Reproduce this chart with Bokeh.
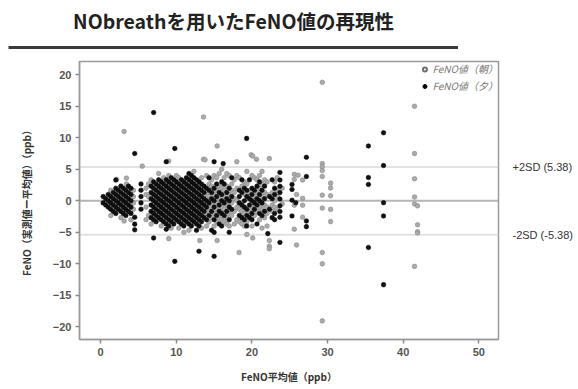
from bokeh.plotting import figure
from bokeh.models import (Range1d, FixedTicker, LinearAxis, Span, Legend, LegendItem,
                          ColumnDataSource, CustomJSTickFormatter)
from bokeh.layouts import column
from bokeh.embed import file_html
from bokeh.resources import INLINE

TITLE = "NObreathを用いたFeNO値の再現性"
X_LABEL = "FeNO平均値（ppb）"
Y_LABEL = "FeNO（実測値ー平均値）（ppb）"
SERIES = ["FeNO値（朝）", "FeNO値（夕）"]
X_TICKS = [0, 10, 20, 30, 40, 50]
Y_TICKS = [-20, -15, -10, -5, 0, 5, 10, 15, 20]
SD_LIMIT = 5.38

# evening (black) points, grouped by mean value: (x, [y...])
EVE_COLS = [
    (0.33, [-0.33, 0.67]),
    (0.67, [-0.67, 0.33]),
    (1.0, [-1, 0, 1]),
    (1.33, [-1.33, -0.33, 0.67]),
    (1.67, [-1.67, -0.67, 0.33, 1.33]),
    (2.0, [-2, -1, 0, 1, 2, 3.3]),
    (2.33, [-1.33, -0.33, 0.67, 1.67]),
    (2.67, [-1.67, -0.67, 0.33, 1.33, 2.33]),
    (3.0, [-2, -1, 0, 1, 2]),
    (3.33, [-2.33, -1.33, -0.33, 0.67, 1.67]),
    (3.67, [-1.67, -0.67, 0.33, 1.33, 2.33]),
    (4.0, [-2, -1, 0, 1, 2]),
    (4.5, [-4.6, -3.7, -2.6, 7.5]),
    (5.33, [-1.33, -0.33, 0.67, 1.67, 2.67]),
    (6.67, [-2.67, -1.67, -0.67, 0.33, 1.33, 2.33]),
    (7.0, [-5.9, -3, -2, -1, 0, 1, 2, 3, 14.0]),
    (7.33, [-3.33, -2.33, -1.33, -0.33, 0.67, 1.67, 2.67]),
    (7.67, [-2.67, -1.67, -0.67, 0.33, 1.33, 2.33, 3.33]),
    (8.0, [-3, -2, -1, 0, 1, 2, 3]),
    (8.33, [-3.33, -2.33, -1.33, -0.33, 0.67, 1.67, 2.67]),
    (8.67, [-4.5, -3.67, -2.67, -1.67, -0.67, 0.33, 1.33, 2.33, 3.33, 6.2]),
    (9.0, [-4, -3, -2, -1, 0, 1, 2, 3]),
    (9.33, [-3.33, -2.33, -1.33, -0.33, 0.67, 1.67, 2.67, 3.67]),
    (9.67, [-3.67, -2.67, -1.67, -0.67, 0.33, 1.33, 2.33, 3.33]),
    (9.8, [-9.6, 8.3]),
    (10.0, [-3, -2, -1, 0, 1, 2, 3]),
    (10.33, [-3.33, -2.33, -1.33, -0.33, 0.67, 1.67, 2.67]),
    (10.67, [-3.67, -2.67, -1.67, -0.67, 0.33, 1.33, 2.33, 3.33]),
    (11.0, [-4, -3, -2, -1, 0, 1, 2, 3]),
    (11.33, [-3.33, -2.33, -1.33, -0.33, 0.67, 1.67, 2.67, 3.67]),
    (11.67, [-3.67, -2.67, -1.67, -0.67, 0.33, 1.33, 2.33, 3.33, 4.33]),
    (12.0, [-4, -3, -2, -1, 0, 1, 2, 3, 4]),
    (12.33, [-3.33, -2.33, -1.33, -0.33, 0.67, 1.67, 2.67, 3.67]),
    (12.67, [-4.67, -3.67, -2.67, -1.67, -0.67, 0.33, 1.33, 2.33, 3.33]),
    (13.0, [-8.0, -4, -3, -2, -1, 0, 1, 2, 3]),
    (13.33, [-3.33, -2.33, -1.33, -0.33, 0.67, 1.67, 2.67]),
    (13.67, [-2.67, -1.67, -0.67, 0.33, 1.33, 2.33]),
    (14.0, [-3, -1, 0, 2]),
    (14.33, [-2.33, -0.33, 1.67, 3.67]),
    (14.67, [-4.67, -1.67, 0.33, 1.33]),
    (15.0, [-8.8, -5, -3, -1, 0, 2, 6.2]),
    (15.33, [-2.33, 0.67, 2.67]),
    (15.67, [-3.67, -1.67, -0.67, 1.33]),
    (16.0, [-4, -2, 0, 1, 3]),
    (16.2, [5.9]),
    (16.33, [-2.33, -0.33, 2.67]),
    (16.67, [-1.67, 0.33, 1.33]),
    (17.0, [-5.0, -3, -1, 0, 2]),
    (17.33, [-1.33, 0.67, 3.67]),
    (18.33, [-2.33, -0.33, 0.67, 1.67]),
    (18.67, [-2.67, -0.67, 1.33, 3.33]),
    (19.0, [-3, -1, 0, 2]),
    (19.3, [-4.0, 9.9]),
    (19.33, [-2.33, -1.33, 0.67, 1.67]),
    (19.67, [-2.67, -0.67, 0.33, 3.33]),
    (20.0, [-3, -2, 0, 1, 2]),
    (20.33, [-1.33, -0.33, 1.67]),
    (20.67, [-3.67, -0.67, 0.33, 2.33]),
    (21.0, [-2, 0, 1, 3]),
    (21.33, [-2.33, -0.33, 1.67]),
    (21.67, [-1.67, 0.33, 2.33]),
    (22.1, [-5.2]),
    (22.33, [-1.33, 0.67]),
    (22.67, [-2.67, 0.33, 3.33]),
    (23.0, [-3, -2, 1, 2]),
    (23.7, [-6.6, -2.6, -1.7, -0.8, 0.3, 1.3, 2.3, 3.3, 4.5]),
    (25.3, [-2.4, 0.1, 1.8, 2.6]),
    (25.8, [-0.3]),
    (27.2, [-4.1, -3.2, 3.85, 6.9]),
    (35.4, [-7.4, 2.6, 3.7, 8.7]),
    (37.4, [-13.3, -2.4, -0.3, 5.6, 10.8]),
]

# morning (gray) points
MORN_COLS = [
    (1.33, [1.67, -2.33]),
    (2.1, [3.4]),
    (2.67, [-2.67]),
    (3.1, [11.0, -3.2]),
    (3.4, [3.6, 2.67]),
    (4.0, [-3.0]),
    (4.33, [1.67, -0.33, 0.67, -1.33]),
    (5.5, [5.5]),
    (6.0, [-3.0, 2.0, 1.0, -1.0]),
    (6.33, [-2.33, 0.67, 2.67]),
    (6.67, [3.33, -3.67]),
    (7.67, [4.33]),
    (8.0, [-4.0]),
    (8.33, [3.67]),
    (9.0, [-6.0, 6.3, 4.0]),
    (9.33, [-4.33]),
    (10.0, [4.0]),
    (10.33, [-4.33, 3.67]),
    (11.0, [-5.0]),
    (11.67, [-4.67]),
    (12.33, [4.67]),
    (13.1, [-6.3]),
    (13.33, [3.67, -4.33]),
    (13.6, [13.3, 6.6]),
    (13.8, [6.5]),
    (14.0, [4.0, -4.0, 1.0, -2.0]),
    (14.33, [2.67, -1.33, -3.33, 0.67]),
    (14.67, [3.33, -2.67, 2.33, -0.67]),
    (15.0, [4.0, 1.0, -2.0, -4.0]),
    (15.33, [3.67, 1.67, -0.33, -1.33, -3.33]),
    (15.4, [8.7, -6.3]),
    (15.67, [2.33, 0.33, -2.67, 4.33]),
    (16.0, [2.0, -1.0, -3.0, 5.0]),
    (16.33, [3.67, 1.67, -1.33, -3.33, 0.67]),
    (16.67, [4.33, 2.33, -0.67, -2.67, -3.67]),
    (17.0, [4.0, 1.0, -2.0, -4.0]),
    (17.33, [2.67, -0.33, -2.33, 1.67]),
    (17.67, [3.33, 0.33, -1.67, -3.67, 1.33]),
    (18.0, [6.2, 2.0, -1.0, -3.0, 4.0, 0.0]),
    (18.3, [-8.2]),
    (18.33, [3.67, -1.33, -3.33]),
    (18.67, [2.33, -1.67, -3.67]),
    (19.0, [3.0, 1.0, -2.0, -4.0]),
    (19.33, [4.67, 2.67, -3.33, -5.33]),
    (19.67, [1.33, -1.67]),
    (19.9, [7.3]),
    (20.0, [4.0, -1.0, -4.0]),
    (20.1, [7.1, -5.9]),
    (20.33, [3.67, 0.67, -2.33]),
    (20.6, [6.6]),
    (20.67, [3.33, 1.33, -1.67]),
    (21.0, [4.0, 2.0, -1.0, -3.0]),
    (21.33, [4.67, 2.67, 0.67, -1.33, -4.33]),
    (21.67, [3.33, 1.33, -0.67, -2.67]),
    (22.0, [3.0, 1.0, -1.0, -2.0, -4.0]),
    (22.3, [6.7, -6.3, -7.2, -7.6]),
    (22.67, [1.33, -0.67, -1.67]),
    (23.0, [0.0, -1.0, 3.0]),
    (23.33, [1.67, -1.33, 3.67, 0.67]),
    (24.0, [2.0, -0.5]),
    (25.6, [4.2, 3.4, -4.5, -0.7]),
    (25.9, [-7.0, 1.0]),
    (26.1, [4.06]),
    (26.7, [3.3, 0.4, -0.7, -2.6]),
    (29.3, [18.8, 5.9, 5.4, 4.8, 3.85, 0.9, -1.15, -8.2, -10.0, -19.05]),
    (30.4, [2.8, 2.05, 0.8, -1.35, -3.3]),
    (41.5, [15.0, 7.5, 3.5, 0.6, -0.5, -10.4]),
    (41.9, [-0.8, -3.8, -4.9, -5.1]),
]


def flatten(cols):
    xs, ys = [], []
    for x, yl in cols:
        for y in yl:
            xs.append(x)
            ys.append(y)
    return xs, ys


eve_x, eve_y = flatten(EVE_COLS)
morn_x, morn_y = flatten(MORN_COLS)

JP = "Noto Sans CJK JP"
NUM = "Liberation Sans"

# ---- title strip with rule underneath ----
t = figure(width=458, height=56, output_backend="svg", toolbar_location=None,
           x_range=Range1d(0, 1), y_range=Range1d(0, 1),
           x_axis_type=None, y_axis_type=None, frame_align=False,
           min_border_left=8, min_border_right=0, min_border_top=0, min_border_bottom=9)
t.title.text = TITLE
t.title.align = "center"
t.title.text_font = JP
t.title.text_font_size = "19.5px"
t.title.text_font_style = "bold"
t.title.text_color = "#222222"
t.title.standoff = 6
t.outline_line_color = None
t.grid.visible = False
rule = LinearAxis(ticker=FixedTicker(ticks=[]))
rule.major_label_text_font_size = "0px"
rule.axis_line_color = "#3a3a3a"
rule.axis_line_width = 3
rule.major_tick_line_color = None
rule.minor_tick_line_color = None
t.add_layout(rule, "below")

# ---- main plot ----
p = figure(width=576, height=330, output_backend="svg", toolbar_location=None,
           x_range=Range1d(-2.8, 52.6), y_range=Range1d(-22.0, 22.1), frame_align=False,
           min_border_left=79, min_border_right=73, min_border_top=5, min_border_bottom=44)
p.grid.visible = False
p.outline_line_color = "#9a9a9a"
p.outline_line_width = 1.5

for ax in (p.xaxis[0], p.yaxis[0]):
    ax.axis_line_color = "#9a9a9a"
    ax.axis_line_width = 1.5
    ax.major_tick_line_color = "#8a8a8a"
    ax.major_tick_line_width = 1.5
    ax.major_tick_out = 4
    ax.major_tick_in = 0
    ax.minor_tick_line_color = None
    ax.major_label_text_font = NUM
    ax.major_label_text_font_size = "11px"
    ax.major_label_text_font_style = "bold"
    ax.major_label_text_color = "#555555"
    ax.axis_label_text_font = JP
    ax.axis_label_text_font_size = "10px"
    ax.axis_label_text_font_style = "bold"
    ax.axis_label_text_color = "#333333"

p.xaxis.ticker = FixedTicker(ticks=X_TICKS)
p.yaxis.ticker = FixedTicker(ticks=Y_TICKS)
p.xaxis.axis_label = X_LABEL
p.yaxis.axis_label = Y_LABEL
p.xaxis.major_label_standoff = 4
p.yaxis.major_label_standoff = 4
p.xaxis.axis_label_standoff = 10
p.yaxis.axis_label_standoff = 16

# reference lines (beneath the points)
p.add_layout(Span(location=0, dimension="width", line_color="#b5b5b5", line_width=2,
                  level="underlay"))
for loc in (SD_LIMIT, -SD_LIMIT):
    p.add_layout(Span(location=loc, dimension="width", line_color="#c4c4c4",
                      line_width=2, line_dash="1 1", level="underlay"))

# right-side SD annotations as an axis
right = LinearAxis(ticker=FixedTicker(ticks=[SD_LIMIT, -SD_LIMIT]),
                   formatter=CustomJSTickFormatter(
                       code=f"return tick > 0 ? '+2SD ({SD_LIMIT})' : '-2SD (-{SD_LIMIT})';"))
right.axis_line_color = None
right.major_tick_line_color = None
right.minor_tick_line_color = None
right.major_label_standoff = 8
right.major_label_text_font = NUM
right.major_label_text_font_size = "11px"
right.major_label_text_color = "#333333"
p.add_layout(right, "right")

# data
p.scatter(morn_x, morn_y, size=4.6, marker="circle", fill_color="#ababab",
          line_color="#858585", line_width=0.6)
p.scatter(eve_x, eve_y, size=4.6, marker="circle", fill_color="#111111",
          line_color="#000000", line_width=0.5)

# legend glyphs (NaN dummy sources so only the legend shows them)
nan = float("nan")
leg_m = p.scatter("x", "y", source=ColumnDataSource(dict(x=[nan], y=[nan])), size=6,
                  marker="circle", fill_color=None, line_color="#707070", line_width=2)
leg_e = p.scatter("x", "y", source=ColumnDataSource(dict(x=[nan], y=[nan])), size=6,
                  marker="circle", fill_color="#000000", line_color="#000000")
legend = Legend(items=[LegendItem(label=SERIES[0], renderers=[leg_m]),
                       LegendItem(label=SERIES[1], renderers=[leg_e])],
                location="top_right", border_line_color=None, background_fill_alpha=0,
                label_text_font=JP, label_text_font_size="10px",
                label_text_font_style="italic", label_text_color="#777777",
                glyph_width=10, glyph_height=10, label_height=10, label_standoff=3,
                spacing=2, padding=2, margin=0)
p.add_layout(legend)

layout = column(t, p, spacing=0)
open("out.html", "w").write(file_html(layout, INLINE))
